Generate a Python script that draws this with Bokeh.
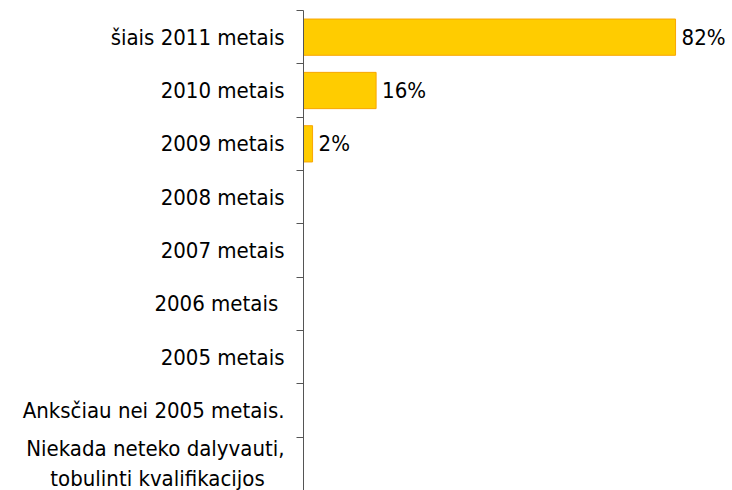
from bokeh.plotting import figure
from bokeh.models import Range1d, FixedTicker, ColumnDataSource, LabelSet
from bokeh.core.properties import value
from bokeh.embed import file_html
from bokeh.resources import INLINE

categories = ["šiais 2011 metais", "2010 metais", "2009 metais", "2008 metais",
              "2007 metais", "2006 metais ", "2005 metais", "Anksčiau nei 2005 metais.",
              "Niekada neteko dalyvauti,\ntobulinti kvalifikacijos\u2002\u2002"]
values = [82, 16, 2, 0, 0, 0, 0, 0, 0]
value_labels = ["82%", "16%", "2%", "", "", "", "", "", ""]

FONT = "DejaVu Sans Condensed"
FS = "22px"

pos = list(range(len(categories)))
src = ColumnDataSource(dict(y=pos, v=values, lab=value_labels))

p = figure(width=732, height=490, output_backend="svg", toolbar_location=None,
           x_range=Range1d(0, 94.55), y_range=Range1d(8.5, -0.5))
p.min_border_left = 303
p.min_border_right = 0
p.min_border_top = 10
p.min_border_bottom = 0
p.outline_line_color = None
p.xaxis.visible = False
p.grid.visible = False
p.background_fill_color = "white"
p.border_fill_color = "white"

p.hbar(y="y", right="v", left=0, height=0.68, source=src,
       fill_color="#FFCC00", line_color="#F9A602", line_width=1)

labels = LabelSet(x="v", y="y", text="lab", source=src, x_offset=6,
                  text_align="left", text_baseline="middle",
                  text_font=value(FONT), text_font_size=FS, text_color="#000000")
p.add_layout(labels)

yax = p.yaxis[0]
yax.ticker = FixedTicker(ticks=pos, minor_ticks=[i - 0.5 for i in range(len(categories) + 1)])
yax.major_label_overrides = {i: c for i, c in enumerate(categories)}
yax.major_tick_line_color = None
yax.minor_tick_out = 7
yax.minor_tick_in = 0
yax.minor_tick_line_color = "#555555"
yax.axis_line_color = "#555555"
yax.major_label_standoff = 12
yax.major_label_text_font = FONT
yax.major_label_text_font_size = FS
yax.major_label_text_line_height = 1.2
yax.major_label_text_color = "#000000"

open("out.html", "w").write(file_html(p, INLINE))
